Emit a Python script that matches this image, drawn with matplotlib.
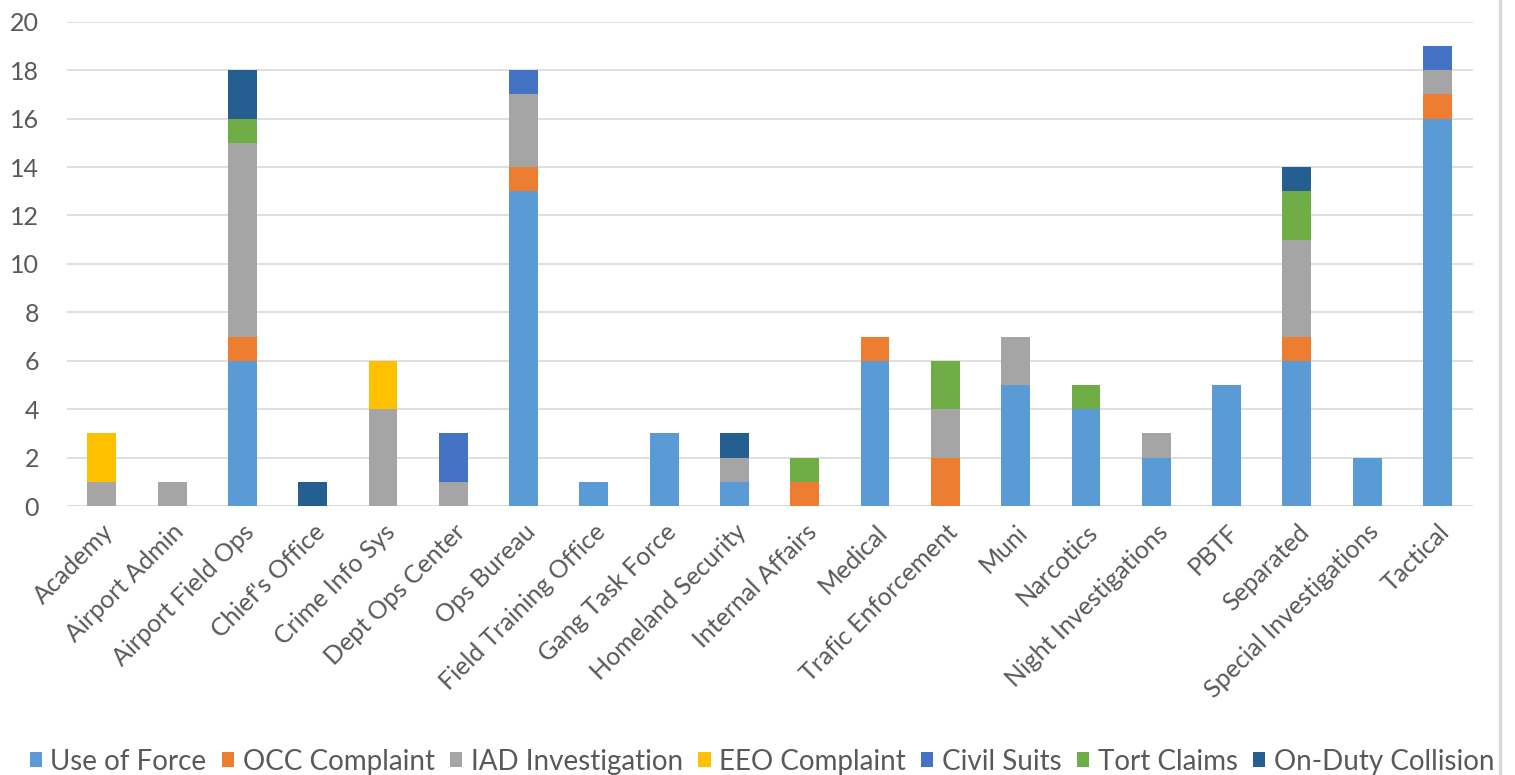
import numpy as np
import matplotlib.pyplot as plt

plt.rcParams['font.family'] = ['Lato', 'DejaVu Sans']

categories = ['Academy', 'Airport Admin', 'Airport Field Ops', "Chief's Office",
              'Crime Info Sys', 'Dept Ops Center', 'Ops Bureau', 'Field Training Office',
              'Gang Task Force', 'Homeland Security', 'Internal Affairs', 'Medical',
              'Trafic Enforcement', 'Muni', 'Narcotics', 'Night Investigations',
              'PBTF', 'Separated', 'Special Investigations', 'Tactical']

use_of_force = [0, 0, 6, 0, 0, 0, 13, 1, 3, 1, 0, 6, 0, 5, 4, 2, 5, 6, 2, 16]
occ_complaint = [0, 0, 1, 0, 0, 0, 1, 0, 0, 0, 1, 1, 2, 0, 0, 0, 0, 1, 0, 1]
iad_investigation = [1, 1, 8, 0, 4, 1, 3, 0, 0, 1, 0, 0, 2, 2, 0, 1, 0, 4, 0, 1]
eeo_complaint = [2, 0, 0, 0, 2, 0, 0, 0, 0, 0, 0, 0, 0, 0, 0, 0, 0, 0, 0, 0]
civil_suits = [0, 0, 0, 0, 0, 2, 1, 0, 0, 0, 0, 0, 0, 0, 0, 0, 0, 0, 0, 1]
tort_claims = [0, 0, 1, 0, 0, 0, 0, 0, 0, 0, 1, 0, 2, 0, 1, 0, 0, 2, 0, 0]
on_duty_collision = [0, 0, 2, 1, 0, 0, 0, 0, 0, 1, 0, 0, 0, 0, 0, 0, 0, 1, 0, 0]

series = [
    ('Use of Force', use_of_force, '#5B9BD5'),
    ('OCC Complaint', occ_complaint, '#ED7D31'),
    ('IAD Investigation', iad_investigation, '#A5A5A5'),
    ('EEO Complaint', eeo_complaint, '#FFC000'),
    ('Civil Suits', civil_suits, '#4472C4'),
    ('Tort Claims', tort_claims, '#70AD47'),
    ('On-Duty Collision', on_duty_collision, '#255E91'),
]

fig = plt.figure(figsize=(15.15, 7.75), dpi=100)
ax = fig.add_axes([0.044, 0.347, 0.928, 0.625])

x = np.arange(len(categories))
bottom = np.zeros(len(categories))
for name, vals, color in series:
    vals = np.array(vals, dtype=float)
    ax.bar(x, vals, 0.41, bottom=bottom, color=color, label=name, zorder=3)
    bottom += vals

ax.set_ylim(0, 20)
ax.set_yticks(range(0, 21, 2))
ax.set_xlim(-0.5, len(categories) - 0.5)
ax.set_xticks(x)
ax.set_xticklabels(categories, rotation=45, ha='right', rotation_mode='anchor')
ax.tick_params(axis='both', length=0, labelsize=18, colors='#595959')
ax.tick_params(axis='x', pad=10)
ax.tick_params(axis='y', pad=20)
ax.grid(axis='y', color='#D9D9D9', linewidth=1.2, zorder=0)
for s in ax.spines.values():
    s.set_visible(False)
ax.axhline(0, color='#D9D9D9', linewidth=1.2, zorder=2)

leg = fig.legend(loc='lower left', bbox_to_anchor=(0.003, -0.032), ncol=7, frameon=False,
                 fontsize=20, handlelength=0.45, handleheight=0.45, handletextpad=0.3,
                 columnspacing=0.55, labelcolor='#595959')

# grey border line on the right edge
fig.add_artist(plt.Line2D([0.99, 0.99], [0, 1], color='#D9D9D9', linewidth=2.5,
                          transform=fig.transFigure))

fig.savefig('out.png', dpi=100, facecolor='white')
